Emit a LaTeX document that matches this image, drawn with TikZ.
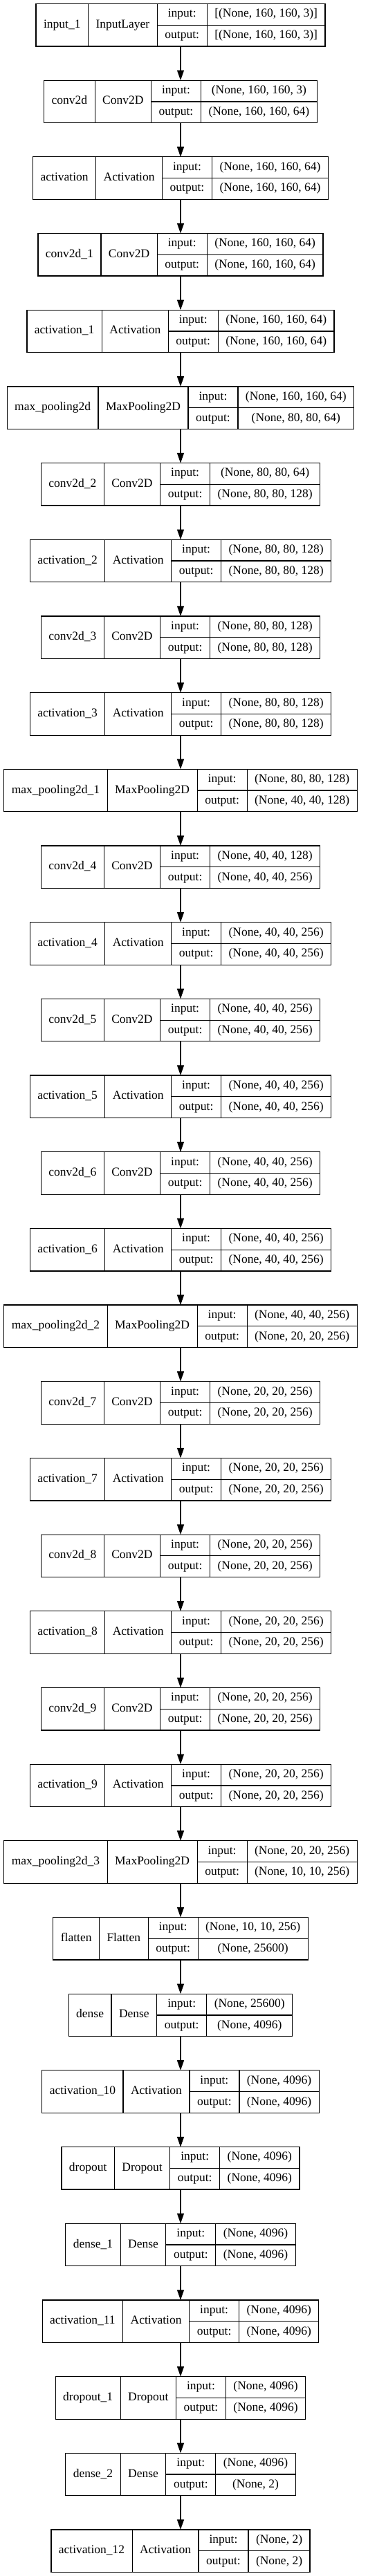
\documentclass[tikz,border=0pt]{standalone}
\usepackage{fontspec}
\setmainfont{Liberation Serif}
\usetikzlibrary{arrows.meta,calc,positioning}
\newcommand\layerfont{\fontsize{13.125pt}{15pt}\selectfont}
\tikzset{
    cell/.style = {draw, rectangle, inner sep=0pt, outer sep=0pt,
        line width=0.9pt, font=\layerfont,
        text height=8.9pt, text depth=2.9pt},
    namecell/.style = {cell, minimum height=46.125pt},
    rowcell/.style = {cell, minimum height=23.0625pt},
    probe/.style = {inner sep=0pt, outer sep=0pt, font=\layerfont},
    arrow/.style = {draw, line width=0.9pt, -{Triangle[length=11pt,width=7.5pt]}}
}
\newcommand\layerbox[5]{%
  \pgfmathsetlengthmacro\ytop{-4.125pt-#1*83.01pt}%
  \path (0,0) node[probe] (w-name) {\phantom{#2}}
      node[probe] (w-class) {\phantom{#3}}
      node[probe] (w-in) {\phantom{#4}}
      node[probe] (w-out) {\phantom{#5}};
  \path let \p1=($(w-name.east)-(w-name.west)$), \p2=($(w-class.east)-(w-class.west)$),
      \p3=($(w-in.east)-(w-in.west)$), \p4=($(w-out.east)-(w-out.west)$) in
    node[namecell, minimum width={\x1+16.5pt}, anchor=north west] (L#1-name)
      at ({195.75pt-(\x1+\x2+max(\x3,\x4)+103.5pt)/2},\ytop) {#2}
    node[namecell, minimum width={\x2+16.5pt}, anchor=north west] (L#1-class) at (L#1-name.north east) {#3}
    node[rowcell, minimum width=54pt, anchor=north west] (L#1-inlbl) at (L#1-class.north east) {input:}
    node[rowcell, minimum width=54pt, anchor=north west] (L#1-outlbl) at (L#1-inlbl.south west) {output:}
    node[rowcell, minimum width={max(\x3,\x4)+16.5pt}, anchor=north west] (L#1-in) at (L#1-inlbl.north east) {#4}
    node[rowcell, minimum width={max(\x3,\x4)+16.5pt}, anchor=north west] (L#1-out) at (L#1-outlbl.north east) {#5};
  \coordinate (L#1-top) at (195.75pt,\ytop);
  \coordinate (L#1-bot) at ($(L#1-top)+(0,-46.125pt)$);
}

\begin{document}
\begin{tikzpicture}
    \useasboundingbox (0,0) rectangle (408pt,-2793.75pt);
    \foreach \nm/\cls/\si/\so [count=\i from 0] in {
        input\_1/InputLayer/{[(None, 160, 160, 3)]}/{[(None, 160, 160, 3)]},
        conv2d/Conv2D/{(None, 160, 160, 3)}/{(None, 160, 160, 64)},
        activation/Activation/{(None, 160, 160, 64)}/{(None, 160, 160, 64)},
        conv2d\_1/Conv2D/{(None, 160, 160, 64)}/{(None, 160, 160, 64)},
        activation\_1/Activation/{(None, 160, 160, 64)}/{(None, 160, 160, 64)},
        max\_pooling2d/MaxPooling2D/{(None, 160, 160, 64)}/{(None, 80, 80, 64)},
        conv2d\_2/Conv2D/{(None, 80, 80, 64)}/{(None, 80, 80, 128)},
        activation\_2/Activation/{(None, 80, 80, 128)}/{(None, 80, 80, 128)},
        conv2d\_3/Conv2D/{(None, 80, 80, 128)}/{(None, 80, 80, 128)},
        activation\_3/Activation/{(None, 80, 80, 128)}/{(None, 80, 80, 128)},
        max\_pooling2d\_1/MaxPooling2D/{(None, 80, 80, 128)}/{(None, 40, 40, 128)},
        conv2d\_4/Conv2D/{(None, 40, 40, 128)}/{(None, 40, 40, 256)},
        activation\_4/Activation/{(None, 40, 40, 256)}/{(None, 40, 40, 256)},
        conv2d\_5/Conv2D/{(None, 40, 40, 256)}/{(None, 40, 40, 256)},
        activation\_5/Activation/{(None, 40, 40, 256)}/{(None, 40, 40, 256)},
        conv2d\_6/Conv2D/{(None, 40, 40, 256)}/{(None, 40, 40, 256)},
        activation\_6/Activation/{(None, 40, 40, 256)}/{(None, 40, 40, 256)},
        max\_pooling2d\_2/MaxPooling2D/{(None, 40, 40, 256)}/{(None, 20, 20, 256)},
        conv2d\_7/Conv2D/{(None, 20, 20, 256)}/{(None, 20, 20, 256)},
        activation\_7/Activation/{(None, 20, 20, 256)}/{(None, 20, 20, 256)},
        conv2d\_8/Conv2D/{(None, 20, 20, 256)}/{(None, 20, 20, 256)},
        activation\_8/Activation/{(None, 20, 20, 256)}/{(None, 20, 20, 256)},
        conv2d\_9/Conv2D/{(None, 20, 20, 256)}/{(None, 20, 20, 256)},
        activation\_9/Activation/{(None, 20, 20, 256)}/{(None, 20, 20, 256)},
        max\_pooling2d\_3/MaxPooling2D/{(None, 20, 20, 256)}/{(None, 10, 10, 256)},
        flatten/Flatten/{(None, 10, 10, 256)}/{(None, 25600)},
        dense/Dense/{(None, 25600)}/{(None, 4096)},
        activation\_10/Activation/{(None, 4096)}/{(None, 4096)},
        dropout/Dropout/{(None, 4096)}/{(None, 4096)},
        dense\_1/Dense/{(None, 4096)}/{(None, 4096)},
        activation\_11/Activation/{(None, 4096)}/{(None, 4096)},
        dropout\_1/Dropout/{(None, 4096)}/{(None, 4096)},
        dense\_2/Dense/{(None, 4096)}/{(None, 2)},
        activation\_12/Activation/{(None, 2)}/{(None, 2)}%
    }{\layerbox{\i}{\nm}{\cls}{\si}{\so}}
    \foreach \i [remember=\i as \j (initially 0)] in {1,...,33}
        \draw[arrow] (L\j-bot) -- (L\i-top);
\end{tikzpicture}
\end{document}
